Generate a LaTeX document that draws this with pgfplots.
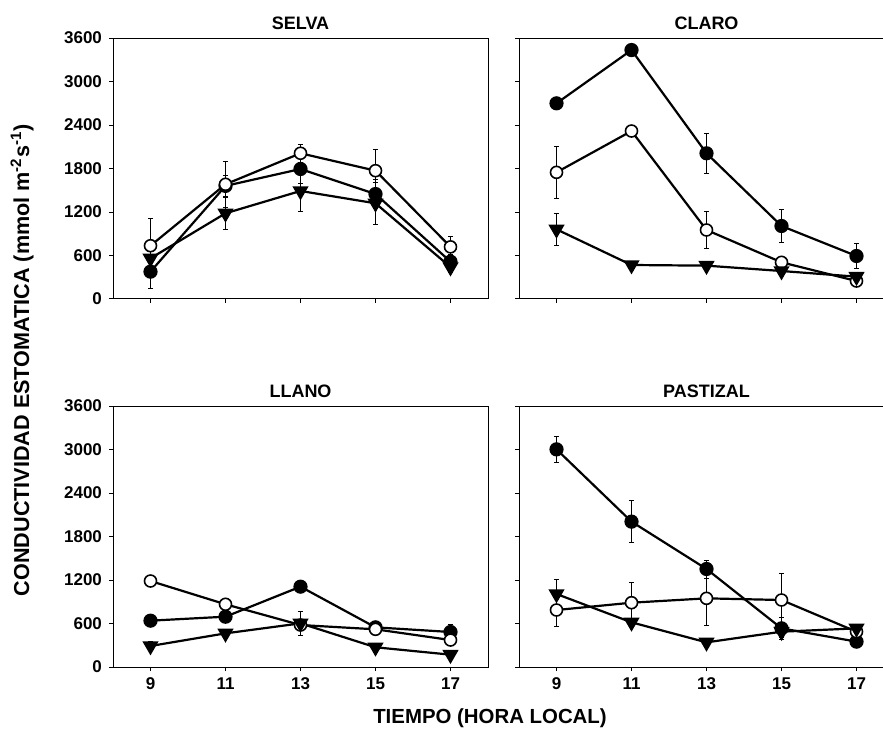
\documentclass[border=0pt]{standalone}
\usepackage{fontspec}
\setmainfont{Liberation Sans}
\usepackage{pgfplots}
\pgfplotsset{compat=1.18}

\pgfplotsset{
  panel/.style={
    scale only axis, width=187.5pt, height=130.5pt,
    anchor=south west,
    xmin=8, xmax=18, ymin=0, ymax=3600,
    xtick={9,11,13,15,17}, ytick={0,600,...,3600},
    tick pos=left, tick align=outside, major tick length=2pt,
    axis line style={line width=0.5pt},
    tick style={line width=0.5pt, black},
    ticklabel style={font=\fontsize{8.5}{10}\selectfont\bfseries},
    /pgf/number format/assume math mode=true,
    /pgf/number format/set thousands separator={},
    title style={font=\fontsize{9}{10}\selectfont\bfseries, at={(0.5,1)},
      anchor=south, yshift=-2pt, inner sep=0pt},
    every axis plot/.append style={line width=1.1pt, black},
  },
  nolabels/.style={xticklabels={}, yticklabels={}},
  filled/.style={mark=*, mark size=3pt, mark options={fill=black, solid},
    error bars/.cd, y dir=both, y explicit,
    error bar style={line width=0.4pt},
    error mark options={rotate=90, mark size=1.3pt, line width=0.4pt}},
  open/.style={mark=*, mark size=3pt, mark options={fill=white, solid, line width=0.8pt},
    error bars/.cd, y dir=both, y explicit,
    error bar style={line width=0.4pt},
    error mark options={rotate=90, mark size=1.3pt, line width=0.4pt}},
  tri/.style={mark=triangle*, mark size=3.6pt, mark options={fill=black, solid, rotate=180},
    error bars/.cd, y dir=both, y explicit,
    error bar style={line width=0.4pt},
    error mark options={rotate=90, mark size=1.3pt, line width=0.4pt}},
}

\begin{document}
\begin{tikzpicture}
\useasboundingbox (0,0) rectangle (441.5pt,370pt);
\clip (0,0) rectangle (441.5pt,370pt);

% SELVA
\begin{axis}[panel, at={(56.5pt,220.5pt)}, title={SELVA}, xticklabels={}]
\addplot[filled] table[y error=e] {
x y e
9 377 230
11 1560 150
13 1793 200
15 1448 200
17 515 100
};
\addplot[open] table[y error=e] {
x y e
9 735 380
11 1582 320
13 2010 128
15 1770 295
17 719 150
};
\addplot[tri] table[y error=e] {
x y e
9 561 150
11 1182 220
13 1490 276
15 1320 286
17 440 80
};
\end{axis}

% CLARO
\begin{axis}[panel, at={(259.5pt,220.5pt)}, title={CLARO}, nolabels]
\addplot[filled] table[y error=e] {
x y e
9 2699 0
11 3434 0
13 2010 275
15 1007 230
17 593 175
};
\addplot[open] table[y error=e] {
x y e
9 1747 354
11 2317 60
13 952 250
15 506 40
17 248 40
};
\addplot[tri] table[y error=e] {
x y e
9 961 220
11 469 30
13 460 30
15 386 30
17 308 40
};
\end{axis}

% LLANO
\begin{axis}[panel, at={(56.5pt,36.5pt)}, title={LLANO}]
\addplot[filled] table[y error=e] {
x y e
9 639 40
11 694 60
13 1108 60
15 547 60
17 483 100
};
\addplot[open] table[y error=e] {
x y e
9 1186 40
11 865 40
13 579 80
15 520 40
17 372 40
};
\addplot[tri] table[y error=e] {
x y e
9 290 60
11 464 60
13 602 160
15 272 30
17 170 30
};
\end{axis}

% PASTIZAL
\begin{axis}[panel, at={(259.5pt,36.5pt)}, title={PASTIZAL}, yticklabels={}]
\addplot[filled] table[y error=e] {
x y e
9 3002 175
11 2005 290
13 1352 124
15 533 150
17 350 40
};
\addplot[open] table[y error=e] {
x y e
9 786 220
11 887 280
13 947 380
15 924 370
17 487 60
};
\addplot[tri] table[y error=e] {
x y e
9 1007 207
11 616 60
13 340 60
15 487 80
17 533 60
};
\end{axis}

\node[rotate=90, font=\fontsize{10.8}{12}\selectfont\bfseries] at (11pt,190pt)
  {CONDUCTIVIDAD ESTOMATICA (mmol m\textsuperscript{-2}s\textsuperscript{-1})};
\node[font=\fontsize{10.2}{12}\selectfont\bfseries] at (245pt,11pt) {TIEMPO (HORA LOCAL)};
\end{tikzpicture}
\end{document}
